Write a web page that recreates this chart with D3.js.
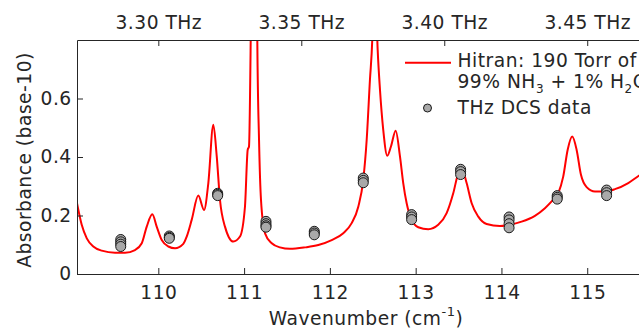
<!DOCTYPE html>
<html><head><meta charset="utf-8">
<script src="https://cdn.jsdelivr.net/npm/d3@7"></script>
<style>
body{margin:0;background:#fff;overflow:hidden}
text{font-family:"DejaVu Sans",sans-serif;fill:#262626;letter-spacing:0.5px}
</style>
</head><body><svg id="c" width="639" height="328"></svg>
<script>
// HITRAN simulated absorbance (wavenumber cm^-1, absorbance)
const curveWn = [109.052,109.107,109.166,109.242,109.340,109.495,109.612,109.728,109.807,109.865,109.930,109.981,110.040,110.117,110.195,110.291,110.331,110.389,110.466,110.533,110.583,110.641,110.681,110.719,110.777,110.874,110.952,111.010,111.042,111.057,111.077,111.098,111.121,111.145,111.154,111.174,111.197,111.244,111.322,111.418,111.535,111.710,111.865,112.021,112.156,112.254,112.331,112.389,112.429,112.467,112.494,112.520,112.557,112.584,112.622,112.669,112.712,112.767,112.817,112.855,112.895,112.953,113.030,113.147,113.263,113.361,113.438,113.497,113.536,113.594,113.653,113.730,113.827,113.983,114.079,114.235,114.390,114.507,114.585,114.662,114.720,114.772,114.825,114.876,114.927,114.993,115.090,115.206,115.323,115.478,115.602,115.790];
const curveAbs = [0.242,0.168,0.122,0.094,0.080,0.073,0.073,0.082,0.105,0.162,0.204,0.162,0.116,0.094,0.088,0.103,0.128,0.185,0.268,0.219,0.311,0.510,0.402,0.253,0.162,0.111,0.128,0.230,0.425,0.436,0.800,1.500,2.500,1.500,0.800,0.459,0.253,0.139,0.105,0.091,0.086,0.091,0.099,0.116,0.139,0.174,0.230,0.322,0.459,0.664,0.800,1.100,0.767,0.630,0.493,0.404,0.436,0.490,0.402,0.311,0.242,0.185,0.160,0.153,0.168,0.208,0.276,0.345,0.362,0.311,0.242,0.196,0.171,0.164,0.168,0.179,0.199,0.225,0.248,0.276,0.333,0.425,0.470,0.425,0.339,0.297,0.282,0.282,0.290,0.311,0.336,0.370];

// THz DCS measurements: one wavenumber per cluster, several repeated values
const dataWn = [109.562,110.128,110.692,111.255,111.818,112.389,112.953,113.524,114.089,114.650,115.226];
const dataAbs = [
  [0.118,0.110,0.102,0.094],
  [0.130,0.125,0.122],
  [0.276,0.272,0.268],
  [0.180,0.172,0.165,0.160],
  [0.146,0.140,0.134],
  [0.328,0.320,0.312],
  [0.203,0.195,0.186],
  [0.358,0.350,0.340],
  [0.195,0.185,0.172,0.158],
  [0.268,0.262,0.256],
  [0.287,0.278,0.268]
];

const xTicks = [110,111,112,113,114,115];
const yTicks = [0,0.2,0.4,0.6];
const yTickLabels = ["0","0.2","0.4","0.6"];
const topTicksTHz = [3.30,3.35,3.40,3.45];
const topTickLabels = ["3.30 THz","3.35 THz","3.40 THz","3.45 THz"];
const thzPerWn = 0.03;

const svg = d3.select("#c");
const L = 77, R = 655, T = 40, B = 274;
const FS = "18.67px";
const axisColor = "#262626";

const x = d3.scaleLinear().domain([109.052, 115.79]).range([L, R]);
const xTop = d3.scaleLinear().domain(x.domain().map(d => d * thzPerWn)).range([L, R]);
const y = d3.scaleLinear().domain([0, 0.8]).range([B, T]);

svg.append("defs").append("clipPath").attr("id","clip")
  .append("rect").attr("x",L).attr("y",T).attr("width",R-L).attr("height",B-T);

// curve
const line = d3.line().x((d,i)=>x(curveWn[i])).y(d=>y(d)).curve(d3.curveMonotoneX);
svg.append("path").attr("clip-path","url(#clip)")
  .attr("d", line(curveAbs)).attr("fill","none").attr("stroke","#ff0000").attr("stroke-width",2);

// data points
const pts = [];
dataWn.forEach((w,i)=>dataAbs[i].forEach(v=>pts.push([w,v])));
svg.append("g").selectAll("circle").data(pts).join("circle")
  .attr("cx",d=>x(d[0])).attr("cy",d=>y(d[1])).attr("r",5)
  .attr("fill","#a9a9a9").attr("stroke","#1a1a1a").attr("stroke-width",1);

function styleAxis(g){
  g.selectAll("path,line").attr("stroke",axisColor).attr("stroke-width",1);
  g.selectAll("text").style("font-size",FS).attr("fill",axisColor);
}

svg.append("g").attr("transform",`translate(0,${B})`)
  .call(d3.axisBottom(x).tickValues(xTicks).tickFormat(d3.format("d")).tickSizeInner(-6).tickSizeOuter(0).tickPadding(12))
  .call(styleAxis);
svg.append("g").attr("transform",`translate(0,${T})`)
  .call(d3.axisTop(xTop).tickValues(topTicksTHz).tickFormat((d,i)=>topTickLabels[i]).tickSizeInner(-6).tickSizeOuter(0).tickPadding(10.7))
  .call(styleAxis);
svg.append("g").attr("transform",`translate(${L},0)`)
  .call(d3.axisLeft(y).tickValues(yTicks).tickFormat((d,i)=>yTickLabels[i]).tickSizeInner(-6).tickSizeOuter(0).tickPadding(5.3))
  .call(styleAxis);

// axis titles
svg.append("text").attr("transform","translate(31,160) rotate(-90)")
  .attr("text-anchor","middle").style("font-size",FS).text("Absorbance (base-10)");
const xl = svg.append("text").attr("x",366).attr("y",325).attr("text-anchor","middle").style("font-size",FS);
xl.append("tspan").text("Wavenumber (cm");
xl.append("tspan").attr("dy",-9).style("font-size","13px").text("-1");
xl.append("tspan").attr("dy",9).text(")");

// legend
const lg = svg.append("g");
lg.append("line").attr("x1",405).attr("x2",451).attr("y1",62.7).attr("y2",62.7).attr("stroke","#ff0000").attr("stroke-width",2);
lg.append("text").attr("x",457.5).attr("y",67.3).style("font-size",FS).text("Hitran: 190 Torr of");
const t2 = lg.append("text").attr("x",457.5).attr("y",87.7).style("font-size",FS);
t2.append("tspan").text("99% NH");
t2.append("tspan").attr("dy",5).style("font-size","12px").text("3");
t2.append("tspan").attr("dy",-5).text(" + 1% H");
t2.append("tspan").attr("dy",5).style("font-size","12px").text("2");
t2.append("tspan").attr("dy",-5).text("O");
lg.append("circle").attr("cx",427.5).attr("cy",108).attr("r",4).attr("fill","#a9a9a9").attr("stroke","#1a1a1a").attr("stroke-width",1);
lg.append("text").attr("x",457.5).attr("y",114).style("font-size",FS).text("THz DCS data");
</script>
</body></html>
